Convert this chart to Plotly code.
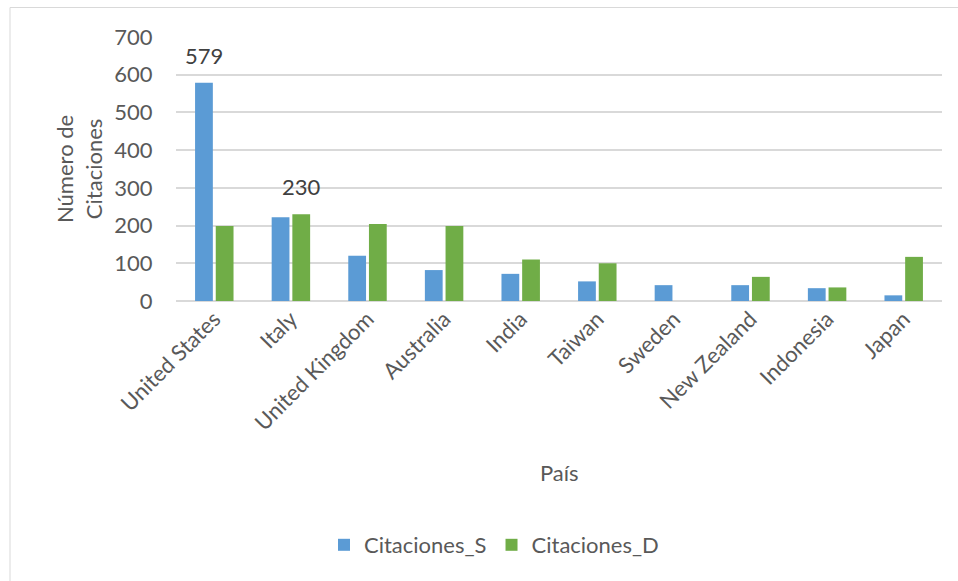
import plotly.graph_objects as go

# Citation counts per country, two series
paises = ["United States", "Italy", "United Kingdom", "Australia", "India",
          "Taiwan", "Sweden", "New Zealand", "Indonesia", "Japan"]
citaciones_s = [579, 222, 120, 82, 72, 52, 42, 42, 34, 15]
citaciones_d = [199, 230, 204, 199, 110, 100, 0, 64, 36, 117]
y_ticks = [0, 100, 200, 300, 400, 500, 600, 700]

# labelled bars: (series index, category index)
etiquetas = [(0, 0), (1, 1)]

W, H = 958, 581
M_L, M_R, M_T, M_B = 176, 16, 37, 280
PLOT_W = W - M_L - M_R
PLOT_H = H - M_T - M_B

BARGAP = 0.46
BARGROUPGAP = 0.14
TXT = "#595959"
FONT = "Lato, Open Sans, sans-serif"
FS = 22

fig = go.Figure()
fig.add_trace(go.Bar(name="Citaciones_S", x=paises, y=citaciones_s,
                     marker=dict(color="#5B9BD5", line=dict(width=0))))
fig.add_trace(go.Bar(name="Citaciones_D", x=paises, y=citaciones_d,
                     marker=dict(color="#70AD47", line=dict(width=0))))

# value labels above selected bars
cat_w = PLOT_W / len(paises)
slot = cat_w * (1 - BARGAP) / 2
series = [citaciones_s, citaciones_d]
annotations = []
for s, c in etiquetas:
    annotations.append(dict(
        x=paises[c], y=series[s][c], xref="x", yref="y",
        text=str(series[s][c]), showarrow=False,
        xshift=(s - 0.5) * slot, yshift=12, yanchor="bottom", xanchor="center",
        font=dict(family=FONT, size=FS, color="#404040")))

# axis titles
annotations.append(dict(
    x=(79 - M_L) / PLOT_W, y=0.5, xref="paper", yref="paper",
    xanchor="center", yanchor="middle",
    text="Número de<br>Citaciones", textangle=-90, showarrow=False,
    font=dict(family=FONT, size=FS, color=TXT)))
annotations.append(dict(
    x=0.5, y=(M_T + PLOT_H - 473) / PLOT_H, xref="paper", yref="paper",
    xanchor="center", yanchor="middle",
    text="País", showarrow=False,
    font=dict(family=FONT, size=FS, color=TXT)))

# thin frame around the chart area
shapes = [dict(type="rect", xref="paper", yref="paper",
               x0=(10 - M_L) / PLOT_W, x1=(W + 20 - M_L) / PLOT_W,
               y0=(M_T + PLOT_H - (H + 20)) / PLOT_H,
               y1=(M_T + PLOT_H - 7.5) / PLOT_H,
               line=dict(color="#d9d9d9", width=1), layer="below")]

fig.update_layout(
    width=W, height=H,
    margin=dict(l=M_L, r=M_R, t=M_T, b=M_B),
    paper_bgcolor="white", plot_bgcolor="white",
    barmode="group", bargap=BARGAP, bargroupgap=BARGROUPGAP,
    font=dict(family=FONT, size=FS, color=TXT),
    showlegend=True,
    legend=dict(orientation="h", x=(494 - M_L) / PLOT_W, xanchor="center",
                y=(M_T + PLOT_H - 545) / PLOT_H, yanchor="middle",
                font=dict(family=FONT, size=FS, color=TXT),
                itemwidth=30, tracegroupgap=0),
    annotations=annotations,
    shapes=shapes,
)
fig.update_xaxes(tickangle=-45, showgrid=False, showline=False,
                 tickfont=dict(family=FONT, size=FS, color=TXT))
fig.update_yaxes(range=[0, 700], tickvals=y_ticks,
                 showgrid=True, gridcolor="#d9d9d9", gridwidth=1.5,
                 zeroline=True, zerolinecolor="#d9d9d9", zerolinewidth=1.5,
                 showline=False, ticks="outside", ticklen=18, tickcolor="white",
                 tickfont=dict(family=FONT, size=FS, color=TXT))

fig.write_html("out.html")
